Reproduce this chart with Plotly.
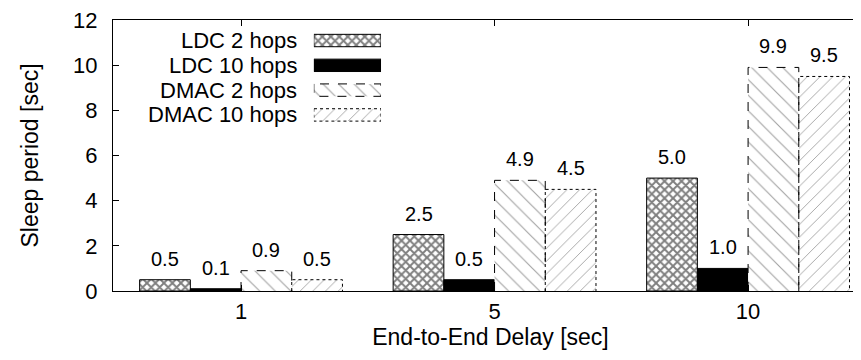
import plotly.graph_objects as go

categories = ["1", "5", "10"]
series_names = ["LDC 2 hops", "LDC 10 hops", "DMAC 2 hops", "DMAC 10 hops"]
ldc_2 = [0.5, 2.5, 5.0]
ldc_10 = [0.1, 0.5, 1.0]
dmac_2 = [0.9, 4.9, 9.9]
dmac_10 = [0.5, 4.5, 9.5]
y_ticks = [0, 2, 4, 6, 8, 10, 12]

series = [ldc_2, ldc_10, dmac_2, dmac_10]
FONT = "Liberation Sans, Arial, Helvetica, sans-serif"
TICK_FS = 22
TITLE_FS = 23
LEG_FS = 22
VAL_FS = 20

styles = [
    dict(color="white", pattern=dict(shape="x", fgcolor="black", bgcolor="white", size=6, solidity=0.55),
         line=dict(color="black", width=1), outline=None),
    dict(color="black", pattern=None, line=dict(color="black", width=1), outline=None),
    dict(color="white", pattern=dict(shape="\\", fgcolor="#444444", bgcolor="white", size=11, solidity=0.1),
         line=dict(width=0), outline="dash"),
    dict(color="white", pattern=dict(shape="/", fgcolor="#444444", bgcolor="white", size=9, solidity=0.1),
         line=dict(width=0), outline="dot"),
]

bw = 0.2
xs = list(range(len(categories)))
fig = go.Figure()
annotations = []
for k, (name, vals, st) in enumerate(zip(series_names, series, styles)):
    off = -0.4 + bw * k
    marker = dict(color=st["color"], line=st["line"])
    if st["pattern"]:
        marker["pattern"] = st["pattern"]
    fig.add_trace(go.Bar(x=xs, y=vals, width=bw, offset=off, marker=marker,
                         name=name, showlegend=False, xaxis="x", yaxis="y"))
    if st["outline"]:
        ox, oy = [], []
        for i, v in zip(xs, vals):
            x0, x1 = i + off, i + off + bw
            ox += [x0, x0, x1, x1, None]
            oy += [0, v, v, 0, None]
        fig.add_trace(go.Scatter(x=ox, y=oy, mode="lines", showlegend=False,
                                 line=dict(color="black", width=1, dash=st["outline"]),
                                 hoverinfo="skip", xaxis="x", yaxis="y"))
    for i, v in zip(xs, vals):
        annotations.append(dict(x=i + off + bw / 2, y=v, xref="x", yref="y", text=f"{v:.1f}",
                                showarrow=False, yanchor="bottom", yshift=8,
                                font=dict(family=FONT, size=VAL_FS, color="black")))

# custom gnuplot-style legend (text right, sample box on right)
for k, (name, st) in enumerate(zip(series_names, styles)):
    marker = dict(color=st["color"], line=st["line"])
    if st["pattern"]:
        marker["pattern"] = st["pattern"]
    fig.add_trace(go.Bar(x=[1], y=[k], base=[0], width=0.5, orientation="h", marker=marker,
                         showlegend=False, hoverinfo="skip", xaxis="x2", yaxis="y2"))
    if st["outline"]:
        fig.add_trace(go.Scatter(x=[0, 0, 1, 1, 0], y=[k - 0.25, k + 0.25, k + 0.25, k - 0.25, k - 0.25],
                                 mode="lines", showlegend=False, hoverinfo="skip",
                                 line=dict(color="black", width=1, dash=st["outline"]),
                                 xaxis="x2", yaxis="y2"))

leg_top, leg_bot = 0.970, 0.604
for k, name in enumerate(series_names):
    yk = leg_top - (k + 0.5) * (leg_top - leg_bot) / len(series_names)
    annotations.append(dict(x=0.245, y=yk, xref="paper", yref="paper", text=name, showarrow=False,
                            xanchor="right", yanchor="middle", borderpad=0,
                            font=dict(family=FONT, size=LEG_FS, color="black")))

axis_common = dict(showline=True, linecolor="black", linewidth=1, mirror="ticks",
                   ticks="inside", ticklen=6, tickcolor="black", showgrid=False, zeroline=False,
                   ticklabeloverflow="allow",
                   tickfont=dict(family=FONT, size=TICK_FS, color="black"))

fig.update_layout(
    width=861, height=360,
    margin=dict(l=105, r=1, t=12, b=77),
    plot_bgcolor="white", paper_bgcolor="white",
    barmode="overlay",
    font=dict(family=FONT, size=TICK_FS, color="black"),
    xaxis=dict(range=[-0.505, 2.473], tickvals=xs, ticktext=categories, ticklabelstandoff=1,
               title=dict(text="End-to-End Delay [sec]", font=dict(family=FONT, size=TITLE_FS), standoff=4),
               **axis_common),
    yaxis=dict(range=[0, 12], tickvals=y_ticks, ticklabelstandoff=10,
               title=dict(text="Sleep period [sec]", font=dict(family=FONT, size=TITLE_FS), standoff=28),
               **axis_common),
    xaxis2=dict(domain=[0.266, 0.355], range=[0, 1], anchor="y2", visible=False, fixedrange=True),
    yaxis2=dict(domain=[leg_bot, leg_top], range=[3.5, -0.5], anchor="x2", visible=False, fixedrange=True),
    annotations=annotations,
)

fig.write_html("out.html")
